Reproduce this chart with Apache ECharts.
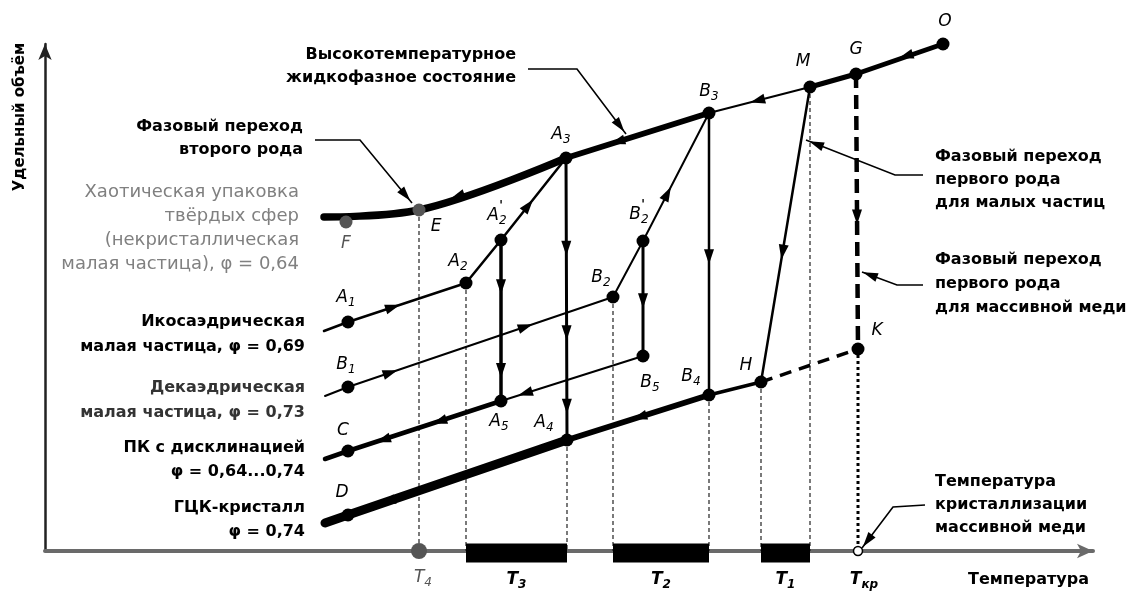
<!DOCTYPE html>
<html>
<head>
<meta charset="utf-8">
<script src="https://cdn.jsdelivr.net/npm/echarts@6/dist/echarts.min.js"></script>
<style>
  html, body { margin: 0; padding: 0; background: #fff; }
  #chart { width: 1134px; height: 593px; }
</style>
</head>
<body>
<div id="chart"></div>
<script>
// Specific volume vs temperature for copper particles: states, paths and transitions.
// Coordinates are in arbitrary plot units (temperature, specific volume).
const pointNames = ['f0','F','E','A3','B3','M','G','O',
                    'a0','A1','A2','A2p','A5','A4',
                    'b0','B1','B2','B2p','B5','B4',
                    'c0','C','d0','D','H','K','T4','Tkr'];
const pointTemp  = [279, 301, 374, 521, 664, 765, 811, 898,
                    279, 303, 421, 456, 456, 522,
                    280, 303, 568, 598, 598, 664,
                    280, 303, 280, 303, 716, 813, 374, 813];
const pointVol   = [334, 329, 341, 393, 438, 464, 477, 507,
                    220, 229, 268, 311, 150, 111,
                    155, 164, 254, 310, 195, 156,
                    92, 100, 28, 36, 169, 202, 0, 0];

// Paths between states
const liquidLow   = ['f0', 'E', 'A3'];
const liquidMid   = ['A3', 'B3'];
const liquidUpper = ['B3', 'M'];
const liquidHot   = ['M', 'G', 'O'];
const icosaPath   = ['a0', 'A1', 'A2', 'A2p', 'A3'];
const icosaDrop   = ['A2p', 'A5'];
const icosaQuench = ['A3', 'A4'];
const decaPath    = ['b0', 'B1', 'B2', 'B2p', 'B3'];
const decaDrop    = ['B2p', 'B5'];
const decaBack    = ['B5', 'A5'];
const decaQuench  = ['B3', 'B4'];
const pkPath      = ['c0', 'C', 'A5'];
const fccLow      = ['d0', 'D', 'A4'];
const fccMid      = ['A4', 'B4'];
const fccHigh     = ['B4', 'H'];
const smallMelt   = ['M', 'H'];
const bulkMelt    = ['G', 'K'];
const superheat   = ['H', 'K'];
const bulkDrop    = ['K', 'Tkr'];

// States projected onto the temperature axis
const guidePoints = ['E', 'A2', 'A4', 'B2', 'B4', 'H', 'M'];
// Temperature intervals T3, T2, T1 (start state, end state, label)
const intervalFrom  = ['A2', 'B2', 'H'];
const intervalTo    = ['A4', 'B4', 'M'];
const intervalLabel = ['{b|T}{bs|3}', '{b|T}{bs|2}', '{b|T}{bs|1}'];

// Direction arrows on paths: [from, to, fraction along segment]
const flowArrows = [
  ['A3', 'E', 0.74], ['B3', 'A3', 0.64], ['M', 'B3', 0.52], ['O', 'M', 0.28],
  ['A1', 'A2', 0.38], ['A2p', 'A3', 0.42], ['A2p', 'A5', 0.29], ['A2p', 'A5', 0.81],
  ['A3', 'A4', 0.32], ['A3', 'A4', 0.62], ['A3', 'A4', 0.88],
  ['B1', 'B2', 0.16], ['B1', 'B2', 0.67], ['B2p', 'B3', 0.37], ['B2p', 'B5', 0.52],
  ['B5', 'A5', 0.83], ['B3', 'B4', 0.51],
  ['A5', 'c0', 0.35], ['A5', 'c0', 0.67],
  ['A4', 'd0', 0.74], ['B4', 'A4', 0.49],
  ['M', 'H', 0.56], ['G', 'K', 0.52]
];

const blackDots = ['A1','A2','A2p','A3','A4','A5','B1','B2','B2p','B3','B4','B5','C','D','H','K','M','G','O'];
const grayDots  = ['F', 'E', 'T4'];

// Callout leader lines (polyline ending in an arrowhead)
const callouts = [
  [[483, 482], [532, 482], [581, 417]],
  [[270, 411], [315, 411], [367, 348]],
  [[878, 376], [850, 376], [761, 411]],
  [[878, 266], [852, 266], [817, 279]],
  [[880, 46], [848, 44], [817, 3]]
];

const P = {};
pointNames.forEach((n, i) => { P[n] = [pointTemp[i], pointVol[i]]; });
const xy = n => P[n];

const FONT = 'DejaVu Sans';
const INK = '#000';

function pathSeries(names, width, extra) {
  return Object.assign({
    type: 'line', data: names.map(xy), symbol: 'none', showSymbol: false,
    clip: false, silent: true, animation: false, z: 3,
    lineStyle: { color: INK, width: width, cap: 'round', join: 'round' }
  }, extra || {});
}
function dashedSeries(names, width, dash, color) {
  return pathSeries(names, width, {
    lineStyle: { color: color || INK, width: width, type: dash, cap: 'butt' }
  });
}

function arrowItem(p, q, t) {
  const x = p[0] + (q[0] - p[0]) * t;
  const y = p[1] + (q[1] - p[1]) * t;
  const ang = Math.atan2(q[1] - p[1], q[0] - p[0]) * 180 / Math.PI;
  return { value: [x, y], symbolRotate: ang - 90 };
}

const series = [];

// thin projections to the temperature axis
guidePoints.forEach(n => {
  series.push(Object.assign(pathSeries([], 1.2), {
    data: [P[n], [P[n][0], 0]],
    lineStyle: { color: '#222', width: 1.2, type: [4, 3], cap: 'butt' }, z: 2
  }));
});

// temperature intervals on the axis
intervalFrom.forEach((a, i) => {
  series.push(Object.assign(pathSeries([], 19), {
    data: [[P[a][0], -2], [P[intervalTo[i]][0], -2]],
    lineStyle: { color: INK, width: 19, cap: 'butt' }, z: 4
  }));
});

// liquid branch
series.push(pathSeries(liquidLow, 7.5, { smooth: 0.35 }));
series.push(pathSeries(liquidMid, 6));
series.push(pathSeries(liquidUpper, 2));
series.push(pathSeries(liquidHot, 5));
// icosahedral particle
series.push(pathSeries(icosaPath, 2.5));
series.push(pathSeries(icosaDrop, 3.5));
series.push(pathSeries(icosaQuench, 3));
// decahedral particle
series.push(pathSeries(decaPath, 2));
series.push(pathSeries(decaDrop, 3));
series.push(pathSeries(decaBack, 2));
series.push(pathSeries(decaQuench, 2.5));
// disclinated crystal and fcc crystal
series.push(pathSeries(pkPath, 4.5));
series.push(pathSeries(fccLow, 9));
series.push(pathSeries(fccMid, 6));
series.push(pathSeries(fccHigh, 3.5));
// melting transitions
series.push(pathSeries(smallMelt, 2.5));
series.push(dashedSeries(bulkMelt, 4.5, [14, 7]));
series.push(dashedSeries(superheat, 3.5, [12, 8]));
series.push(dashedSeries(bulkDrop, 3, [3, 3]));

const solid = { color: INK, opacity: 1 };

// flow arrows
series.push({
  type: 'scatter', silent: true, clip: false, animation: false, z: 6,
  symbol: 'triangle', symbolSize: [10, 15], itemStyle: solid,
  data: flowArrows.map(([a, b, t]) => arrowItem(P[a], P[b], t))
});

// callout leaders
callouts.forEach(pts => {
  series.push(Object.assign(pathSeries([], 1.6), {
    data: pts, lineStyle: { color: INK, width: 1.6, join: 'miter' }, z: 7
  }));
});
series.push({
  type: 'scatter', silent: true, clip: false, animation: false, z: 7,
  symbol: 'triangle', symbolSize: [9, 15], itemStyle: solid,
  data: callouts.map(pts => {
    const p = pts[pts.length - 2], q = pts[pts.length - 1];
    return arrowItem(p, q, 0.96 - 7 / Math.hypot(q[0] - p[0], q[1] - p[1]));
  })
});

// state markers
series.push({
  type: 'scatter', silent: true, clip: false, animation: false, z: 8,
  symbol: 'circle', symbolSize: 13, itemStyle: solid,
  data: blackDots.map(xy)
});
series.push({
  type: 'scatter', silent: true, clip: false, animation: false, z: 8,
  symbol: 'circle', itemStyle: { color: '#555', opacity: 1 },
  data: grayDots.map(n => ({ value: P[n], symbolSize: n === 'T4' ? 16 : 13 }))
});
series.push({
  type: 'scatter', silent: true, clip: false, animation: false, z: 9,
  symbol: 'circle', symbolSize: 9,
  itemStyle: { color: '#fff', borderColor: INK, borderWidth: 1.5, opacity: 1 },
  data: [P['Tkr']]
});

// point labels
const rich = {
  i: { fontFamily: FONT, fontStyle: 'italic', fontSize: 17, color: INK, lineHeight: 22 },
  s: { fontFamily: FONT, fontStyle: 'italic', fontSize: 12, color: INK, lineHeight: 12, verticalAlign: 'bottom' },
  g: { fontFamily: FONT, fontStyle: 'italic', fontSize: 17, color: '#555', lineHeight: 22 },
  gs: { fontFamily: FONT, fontStyle: 'italic', fontSize: 12, color: '#555', lineHeight: 12, verticalAlign: 'bottom' },
  b: { fontFamily: FONT, fontStyle: 'italic', fontWeight: 'bold', fontSize: 17, color: INK, lineHeight: 22 },
  bs: { fontFamily: FONT, fontStyle: 'italic', fontWeight: 'bold', fontSize: 12, color: INK, lineHeight: 12, verticalAlign: 'bottom' },
  p: { fontFamily: FONT, fontWeight: 'bold', fontSize: 12, color: INK }
};
const pointLabels = [
  ['F', '{g|F}', [0, 22]], ['E', '{i|E}', [17, 17]],
  ['A1', '{i|A}{s|1}', [-2, -24]], ['A2', '{i|A}{s|2}', [-8, -21]],
  ['A2p', '{i|A}{s|2}', [-4, -24]], ['A3', '{i|A}{s|3}', [-5, -23]],
  ['A4', '{i|A}{s|4}', [-23, -17]], ['A5', '{i|A}{s|5}', [-2, 21]],
  ['B1', '{i|B}{s|1}', [-2, -22]], ['B2', '{i|B}{s|2}', [-12, -19]],
  ['B2p', '{i|B}{s|2}', [-4, -26]], ['B3', '{i|B}{s|3}', [0, -21]],
  ['B4', '{i|B}{s|4}', [-18, -18]], ['B5', '{i|B}{s|5}', [7, 27]],
  ['C', '{i|C}', [-5, -20]], ['D', '{i|D}', [-6, -22]],
  ['H', '{i|H}', [-15, -16]], ['K', '{i|K}', [19, -18]],
  ['M', '{i|M}', [-7, -25]], ['G', '{i|G}', [0, -24]], ['O', '{i|O}', [2, -22]],
  ['A2p', '{p|\'}', [0, -34]], ['B2p', '{p|\'}', [0, -36]],
  ['T4', '{g|T}{gs|4}', [4, 27]], ['Tkr', '{b|T}{bs|кр}', [6, 29]]
];
const labelData = pointLabels.map(([n, txt, off]) => ({
  value: P[n],
  label: { show: true, formatter: txt, position: off, align: 'center', verticalAlign: 'middle', rich: rich }
}));
intervalFrom.forEach((a, i) => {
  labelData.push({
    value: [(P[a][0] + P[intervalTo[i]][0]) / 2, 0],
    label: { show: true, formatter: intervalLabel[i], position: [0, 29], align: 'center', verticalAlign: 'middle', rich: rich }
  });
});
series.push({
  type: 'scatter', silent: true, clip: false, animation: false, z: 10,
  symbolSize: 0, itemStyle: { opacity: 1 }, data: labelData
});

// descriptive notes
const note = { fontFamily: FONT, fontWeight: 'bold', fontSize: 16, lineHeight: 23, color: INK };
const notes = [
  [[471, 485], 'Высокотемпературное\nжидкофазное состояние', 'right', {}],
  [[258, 413], 'Фазовый переход\nвторого рода', 'right', {}],
  [[254, 323], 'Хаотическая упаковка\nтвёрдых сфер\n(некристаллическая\nмалая частица), φ = 0,64', 'right',
    { fontWeight: 'normal', fontSize: 18, color: '#808080', lineHeight: 24 }],
  [[260, 217], 'Икосаэдрическая\nмалая частица, φ = 0,69', 'right', { lineHeight: 25 }],
  [[260, 151], 'Декаэдрическая\nмалая частица, φ = 0,73', 'right', { color: '#333', lineHeight: 25 }],
  [[260, 91], 'ПК с дисклинацией\nφ = 0,64...0,74', 'right', { lineHeight: 24 }],
  [[260, 31], 'ГЦК-кристалл\nφ = 0,74', 'right', { lineHeight: 24 }],
  [[890, 371], 'Фазовый переход\nпервого рода\nдля малых частиц', 'left', {}],
  [[890, 267], 'Фазовый переход\nпервого рода\nдля массивной меди', 'left', { lineHeight: 24 }],
  [[890, 46], 'Температура\nкристаллизации\nмассивной меди', 'left', { lineHeight: 23 }],
  [[923, -29], 'Температура', 'left', {}],
  [[-25, 434], 'Удельный объём', 'center', { rotate: 90, fontSize: 15 }]
];
series.push({
  type: 'scatter', silent: true, clip: false, animation: false, z: 10,
  symbolSize: 0, itemStyle: { opacity: 1 },
  data: notes.map(([at, txt, align, extra]) => ({
    value: at,
    label: Object.assign({ show: true, formatter: txt, position: [0, 0], align: align, verticalAlign: 'middle' },
                         note, extra)
  }))
});

const chart = echarts.init(document.getElementById('chart'), null, { renderer: 'canvas' });
chart.setOption({
  animation: false,
  backgroundColor: '#fff',
  grid: { left: 45, right: 41, top: 44, bottom: 42 },
  xAxis: {
    type: 'value', min: 0, max: 1048,
    axisLine: { show: true, symbol: ['none', 'arrow'], symbolSize: [11, 16],
                lineStyle: { color: '#6a6a6a', width: 4 } },
    axisTick: { show: false }, axisLabel: { show: false }, splitLine: { show: false }
  },
  yAxis: {
    type: 'value', min: 0, max: 507,
    axisLine: { show: true, symbol: ['none', 'arrow'], symbolSize: [10, 16],
                lineStyle: { color: '#222', width: 2.5 } },
    axisTick: { show: false }, axisLabel: { show: false }, splitLine: { show: false }
  },
  series: series
});
</script>
</body>
</html>
